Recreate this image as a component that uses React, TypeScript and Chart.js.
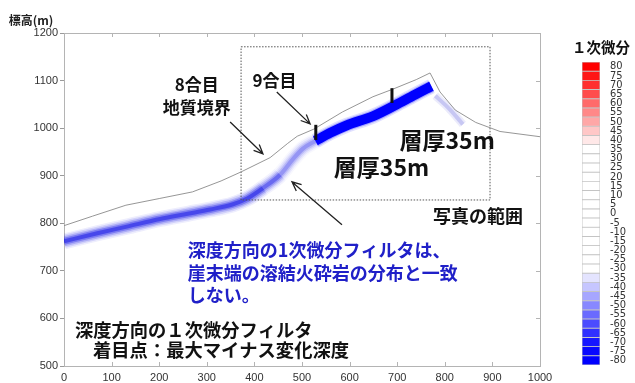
import React, { useEffect, useRef } from 'react';
import { Chart, registerables } from 'chart.js';
Chart.register(...registerables);

// ---- data ----
const xTickValues = [0, 100, 200, 300, 400, 500, 600, 700, 800, 900, 1000];
const yTickValues = [500, 600, 700, 800, 900, 1000, 1100, 1200];

const surfaceX = [0, 60, 130, 200, 270, 330, 372, 433, 470, 490, 525, 585, 649, 691, 740, 769, 790, 822, 865, 916, 1000];
const surfaceY = [795, 815, 838, 852, 866, 889, 908, 938, 968, 983, 998, 1034, 1066, 1082, 1102, 1116, 1076, 1038, 1012, 993, 982];

// lower, weaker part of the band (to the 9合目 mark)
const bandLowX = [0, 70, 132, 202, 260, 307, 355, 385, 418, 454, 481, 502, 528];
const bandLowY = [762, 779, 793, 809, 820, 829, 840, 852, 874, 902, 935, 957, 973];
// strong part of the band (9合目 to the top)
const bandRightX = [528, 559, 594, 649, 720, 762, 772];
const bandRightY = [973, 990, 1006, 1025, 1061, 1083, 1088];
const bandTailX = [780, 810, 838];
const bandTailY = [1068, 1040, 1008];

const mark1X = [529, 529];
const mark1Y = [975, 1007];
const mark2X = [689, 689];
const mark2Y = [1053, 1084];

const rectX = [372, 895, 895, 372, 372];
const rectY = [1171, 1171, 849, 849, 1171];

const arrowTailX = [349, 447, 584];
const arrowTailY = [1013, 1076, 797];
const arrowTipX = [418, 517, 479];
const arrowTipY = [946, 1009, 887];

const cbLabels = [80, 75, 70, 65, 60, 55, 50, 45, 40, 35, 30, 25, 20, 15, 10, 5, 0, -5, -10, -15, -20, -25, -30, -35, -40, -45, -50, -55, -60, -65, -70, -75, -80];
const cbColors = [
  '#ff0000', '#ff1616', '#ff3030', '#ff4c4c', '#ff6a6a', '#ff8888', '#ffa7a7', '#ffc7c7', '#ffe8e8',
  '#ffffff', '#ffffff', '#ffffff', '#ffffff', '#ffffff', '#ffffff', '#ffffff', '#ffffff', '#ffffff', '#ffffff', '#ffffff', '#ffffff', '#ffffff', '#ffffff',
  '#e4e4ff', '#c6c6ff', '#a6a6ff', '#8888ff', '#6a6aff', '#4c4cff', '#3030ff', '#1616ff', '#0808ff', '#0000ff',
];

const CJK = '"Noto Sans CJK JP", "Noto Sans", sans-serif';
const NUM = '"Liberation Sans", Arial, sans-serif';

type TextItem = { text: string; x: number; y: number; size: number; color: string; align: CanvasTextAlign };
const texts: TextItem[] = [
  { text: '8合目', x: 279, y: 1091, size: 17, color: '#111', align: 'center' },
  { text: '地質境界', x: 279, y: 1043, size: 17, color: '#111', align: 'center' },
  { text: '9合目', x: 442, y: 1100, size: 17, color: '#111', align: 'center' },
  { text: '層厚35m', x: 805, y: 975, size: 23, color: '#111', align: 'center' },
  { text: '層厚35m', x: 667, y: 918, size: 23, color: '#111', align: 'center' },
  { text: '写真の範囲', x: 870, y: 816, size: 18, color: '#111', align: 'center' },
  { text: '深度方向の1次微分フィルタは、', x: 260, y: 744, size: 18, color: '#2020c8', align: 'left' },
  { text: '崖末端の溶結火砕岩の分布と一致', x: 260, y: 696, size: 18, color: '#2020c8', align: 'left' },
  { text: 'しない。', x: 260, y: 649, size: 18, color: '#2020c8', align: 'left' },
  { text: '深度方向の１次微分フィルタ', x: 23, y: 576, size: 18.3, color: '#111', align: 'left' },
  { text: '着目点：最大マイナス変化深度', x: 61, y: 534, size: 18.3, color: '#111', align: 'left' },
];

const pts = (xs: number[], ys: number[]) => xs.map((x, i) => ({ x, y: ys[i] }));

const line = (xs: number[], ys: number[], color: string, width: number, order: number, extra: any = {}) => ({
  data: pts(xs, ys),
  showLine: true,
  pointRadius: 0,
  borderColor: color,
  borderWidth: width,
  borderCapStyle: 'butt',
  borderJoinStyle: 'round',
  order,
  ...extra,
});

const smooth = { cubicInterpolationMode: 'monotone' };

// intensity of the weaker band along x (fades around the 8合目 boundary)
const lowFactor = (x: number) => {
  if (x < 390) return 1;
  if (x < 445) return 1 - ((x - 390) / 55) * 0.55;
  return 0.45;
};

const softBand = (xs: number[], ys: number[], rgb: string, widths: number[], alphas: number[], order: number, fade?: (x: number) => number) =>
  widths.map((w, i) =>
    line(xs, ys, `rgba(${rgb},${alphas[i]})`, w, order + i, {
      ...smooth,
      ...(fade
        ? { segment: { borderColor: (c: any) => `rgba(${rgb},${(alphas[i] * fade(c.p0.parsed.x)).toFixed(3)})` } }
        : {}),
    })
  );

const annotPlugin = {
  id: 'annot',
  afterDatasetsDraw(chart: any) {
    const { ctx, chartArea: a, scales } = chart;
    const sx = scales.x;
    const sy = scales.y;
    ctx.save();
    ctx.strokeStyle = '#b4b4b4';
    ctx.lineWidth = 1;
    ctx.beginPath();
    ctx.moveTo(a.left, Math.round(a.top) + 0.5);
    ctx.lineTo(Math.round(a.right) + 0.5, Math.round(a.top) + 0.5);
    ctx.lineTo(Math.round(a.right) + 0.5, a.bottom);
    ctx.stroke();
    ctx.beginPath();
    xTickValues.forEach((v) => {
      const px = Math.round(sx.getPixelForValue(v)) + 0.5;
      ctx.moveTo(px, a.top);
      ctx.lineTo(px, a.top + 4);
      ctx.moveTo(px, a.bottom);
      ctx.lineTo(px, a.bottom - 4);
    });
    yTickValues.forEach((v) => {
      const py = Math.round(sy.getPixelForValue(v)) + 0.5;
      ctx.moveTo(a.right, py);
      ctx.lineTo(a.right - 4, py);
    });
    ctx.stroke();
    ctx.strokeStyle = '#222';
    ctx.lineWidth = 1.3;
    arrowTailX.forEach((_, i) => {
      const x0 = sx.getPixelForValue(arrowTailX[i]);
      const y0 = sy.getPixelForValue(arrowTailY[i]);
      const x1 = sx.getPixelForValue(arrowTipX[i]);
      const y1 = sy.getPixelForValue(arrowTipY[i]);
      const ang = Math.atan2(y1 - y0, x1 - x0);
      const L = 10;
      const w = 0.42;
      ctx.beginPath();
      ctx.moveTo(x0, y0);
      ctx.lineTo(x1, y1);
      ctx.moveTo(x1 - L * Math.cos(ang - w), y1 - L * Math.sin(ang - w));
      ctx.lineTo(x1, y1);
      ctx.lineTo(x1 - L * Math.cos(ang + w), y1 - L * Math.sin(ang + w));
      ctx.stroke();
    });
    ctx.textBaseline = 'middle';
    texts.forEach((t) => {
      ctx.font = `bold ${t.size}px ${CJK}`;
      ctx.fillStyle = t.color;
      ctx.textAlign = t.align;
      ctx.fillText(t.text, sx.getPixelForValue(t.x), sy.getPixelForValue(t.y));
    });
    ctx.font = `bold 12px ${CJK}`;
    ctx.fillStyle = '#222';
    ctx.textAlign = 'center';
    ctx.fillText('標高(m)', a.left - 33, a.top - 13);
    ctx.restore();
  },
};

const cbTitlePlugin = {
  id: 'cbTitle',
  afterDraw(chart: any) {
    const { ctx, chartArea: a } = chart;
    ctx.save();
    ctx.font = `bold 14.5px ${CJK}`;
    ctx.fillStyle = '#111';
    ctx.textAlign = 'center';
    ctx.textBaseline = 'middle';
    ctx.fillText('１次微分', a.left + 19, a.top - 15);
    ctx.restore();
  },
};

export default function App() {
  const mainRef = useRef<HTMLCanvasElement>(null);
  const cbRef = useRef<HTMLCanvasElement>(null);

  useEffect(() => {
    const datasets: any[] = [
      line(mark1X, mark1Y, '#111', 3, 0),
      line(mark2X, mark2Y, '#111', 3, 0),
      line(surfaceX, surfaceY, '#8a8a8a', 0.9, 1),
      line(rectX, rectY, '#555', 1, 2, { borderDash: [1.5, 1.5] }),
      line(bandRightX, bandRightY, '#0000ff', 10, 10, smooth),
      ...softBand(bandRightX, bandRightY, '0,0,255', [12, 15], [0.25, 0.12], 11),
      ...softBand(bandLowX, bandLowY, '20,20,230', [4, 7, 10, 13, 16], [0.5, 0.32, 0.2, 0.13, 0.07], 20, lowFactor),
      ...softBand(bandTailX, bandTailY, '90,90,220', [4, 8], [0.25, 0.12], 40),
    ];

    const main = new Chart(mainRef.current!, {
      type: 'scatter',
      data: { datasets },
      options: {
        responsive: false,
        animation: false,
        layout: { padding: { left: 0, top: 33, right: 20, bottom: 0 } },
        plugins: { legend: { display: false }, tooltip: { enabled: false } },
        scales: {
          x: {
            type: 'linear',
            min: 0,
            max: 1000,
            afterBuildTicks: (s: any) => { s.ticks = xTickValues.map((v) => ({ value: v })); },
            afterFit: (s: any) => { s.height = 17; },
            grid: { drawOnChartArea: false, drawTicks: false },
            border: { display: true, color: '#b4b4b4' },
            ticks: { padding: 5, color: '#333', font: { size: 11, family: NUM }, maxRotation: 0, callback: (v: any) => String(v) },
          },
          y: {
            type: 'linear',
            min: 500,
            max: 1200,
            afterBuildTicks: (s: any) => { s.ticks = yTickValues.map((v) => ({ value: v })); },
            afterFit: (s: any) => { s.width = 64; },
            grid: { drawOnChartArea: false, drawTicks: true, tickLength: 4, color: '#9a9a9a' },
            border: { display: true, color: '#b4b4b4' },
            ticks: { padding: 2, color: '#333', font: { size: 11, family: NUM }, callback: (v: any) => String(v) },
          },
        },
      },
      plugins: [annotPlugin],
    } as any);

    const cb = new Chart(cbRef.current!, {
      type: 'bar',
      data: {
        labels: cbLabels.map(String),
        datasets: [
          {
            data: cbLabels.map(() => 1),
            backgroundColor: cbColors,
            borderColor: '#c4c4c4',
            borderWidth: 0.8,
            borderSkipped: false,
            barPercentage: 1,
            categoryPercentage: 1,
          },
        ],
      },
      options: {
        indexAxis: 'y',
        responsive: false,
        animation: false,
        layout: { padding: { left: 22, top: 62, bottom: 18, right: 0 } },
        plugins: { legend: { display: false }, tooltip: { enabled: false } },
        scales: {
          x: { display: false, min: 0, max: 1 },
          y: {
            position: 'right',
            afterFit: (s: any) => { s.width = 35; },
            grid: { display: false },
            border: { display: false },
            ticks: {
              autoSkip: false,
              padding: 2,
              color: '#333',
              font: { size: 11, family: '"Liberation Sans Narrow", "Arial Narrow", "DejaVu Sans Condensed", sans-serif' },
            },
          },
        },
      },
      plugins: [cbTitlePlugin],
    } as any);

    return () => {
      main.destroy();
      cb.destroy();
    };
  }, []);

  return (
    <div style={{ position: 'fixed', left: 0, top: 0, width: 635, height: 383, background: '#fff' }}>
      <canvas ref={mainRef} width={560} height={383} style={{ position: 'absolute', left: 0, top: 0 }} />
      <canvas ref={cbRef} width={75} height={383} style={{ position: 'absolute', left: 560, top: 0 }} />
    </div>
  );
}
